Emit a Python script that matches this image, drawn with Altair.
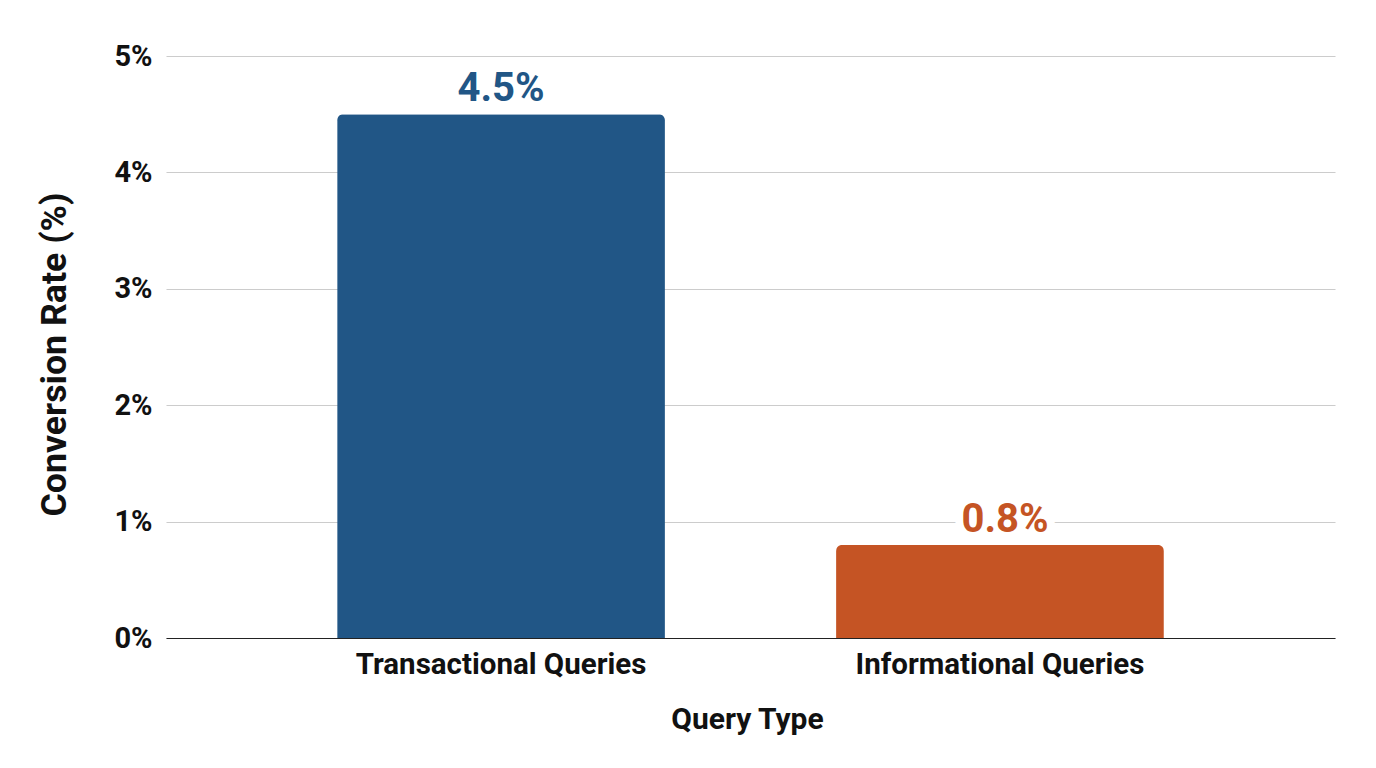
import altair as alt
import pandas as pd

query_types = ["Transactional Queries", "Informational Queries"]
rates = [4.5, 0.8]
labels = ["4.5%", "0.8%"]
colors = ["#215686", "#c55424"]

df = pd.DataFrame({"query": query_types, "rate": rates, "label": labels, "color": colors})
FONT = "Roboto"

x = alt.X("query:N", sort=query_types, title="Query Type",
          scale=alt.Scale(paddingInner=0.343, paddingOuter=0.343),
          axis=alt.Axis(labelAngle=0, labelFontSize=29.5, labelFontWeight="bold", labelColor="#111111",
                        labelFont=FONT, labelPadding=12, labelLimit=500, tickSize=0, domain=True,
                        domainColor="#222222",
                        titleFontSize=30, titleFont=FONT, titleFontWeight="bold", titleColor="#111111",
                        titlePadding=26, titleX=581))
y = alt.Y("rate:Q", title="Conversion Rate (%)",
          scale=alt.Scale(domain=[0, 5]),
          axis=alt.Axis(values=[0, 1, 2, 3, 4, 5], labelExpr="datum.value + '%'", tickSize=0,
                        labelFontSize=29, labelFontWeight="bold", labelColor="#111111", labelFont=FONT,
                        labelPadding=14, domain=False, gridColor="#cccccc", gridWidth=1.2,
                        titleFontSize=35.7, titleFont=FONT, titleFontWeight="bold", titleColor="#111111",
                        titlePadding=41, titleY=298))

bars = alt.Chart(df).mark_bar(cornerRadiusTopLeft=6, cornerRadiusTopRight=6).encode(
    x=x, y=y, color=alt.Color("color:N", scale=None)
)


def value_label(name, nudge):
    base = alt.Chart(df).transform_filter(alt.datum.label == name).encode(x=x, y=y, text="label:N")
    halo = base.mark_text(font=FONT, fontSize=40, fontWeight="bold", dy=-25, dx=nudge,
                          color="white", stroke="white", strokeWidth=16)
    text = base.mark_text(font=FONT, fontSize=40, fontWeight="bold", dy=-25, dx=nudge).encode(
        color=alt.Color("color:N", scale=None)
    )
    return halo + text


chart = (bars + value_label("4.5%", 0) + value_label("0.8%", 5)).properties(
    width=1169, height=582, padding={"left": 28, "top": 34, "right": 20, "bottom": 20}
).configure_view(stroke=None)

chart.save("out.html", embed_options={"renderer": "svg", "actions": False})
